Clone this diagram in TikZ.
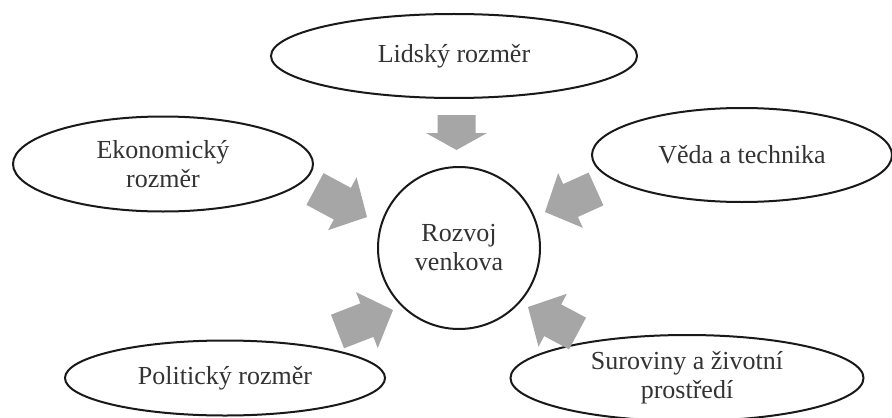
\documentclass[tikz,border=0pt]{standalone}
\usepackage{fontspec}
\setmainfont{Liberation Serif}
\usetikzlibrary{shapes.geometric,calc}
\tikzset{
  bubble/.style={ellipse, draw=black!90, line width=1pt, inner sep=0pt, align=center,
    text=black!80, font=\fontsize{13}{14.5}\selectfont},
  arrowfill/.style={fill=black!35, draw=none},
}
% #1 tail, #2 tip, #3 head length, #4 shaft half width, #5 head half width
\newcommand\blockarrow[5]{%
  \path ($(#2)!#3!(#1)$) coordinate (hb);
  \fill[arrowfill] ($(#1)!#4!90:(#2)$) -- ($(hb)!#4!90:(#2)$) -- ($(hb)!#5!90:(#2)$)
    -- (#2) -- ($(hb)!#5!-90:(#2)$) -- ($(hb)!#4!-90:(#2)$) -- ($(#1)!#4!-90:(#2)$) -- cycle;
}
\begin{document}
\begin{tikzpicture}[x=0.5pt,y=-0.5pt]
\useasboundingbox (0,0) rectangle (892,417);
\fill[white] (0,0) rectangle (892,417);

\node[bubble, minimum width=183pt, minimum height=42pt] (human) at (454,56) {Lidský rozměr};
\node[bubble, minimum width=150pt, minimum height=47.5pt] (econ) at (163,164) {Ekonomický\\rozměr};
\node[bubble, minimum width=150pt, minimum height=47pt] (sci) at (742,155) {Věda a technika};
\node[bubble, minimum width=160pt, minimum height=37.5pt] (pol) at (225,378) {Politický rozměr};
\node[bubble, minimum width=176.5pt, minimum height=43pt] (res) at (687,378) {Suroviny a životní\\prostředí};
\node[bubble, minimum width=81pt, minimum height=81pt] (rural) at (459,248) {Rozvoj\\venkova};

\coordinate (t1) at (456.5,115); \coordinate (h1) at (456.5,150);
\coordinate (t2) at (315,189);   \coordinate (h2) at (367,217);
\coordinate (t3) at (596,189);   \coordinate (h3) at (545,212);
\coordinate (t4) at (337.5,331.5); \coordinate (h4) at (393,310);
\coordinate (t5) at (577.5,333.5); \coordinate (h5) at (528,307);

\blockarrow{t1}{h1}{8.5pt}{9.5pt}{15.25pt}
\blockarrow{t2}{h2}{14pt}{9pt}{15pt}
\blockarrow{t3}{h3}{14pt}{9pt}{15pt}
\blockarrow{t4}{h4}{14pt}{9pt}{15pt}
\blockarrow{t5}{h5}{14pt}{9pt}{15pt}
\end{tikzpicture}
\end{document}
